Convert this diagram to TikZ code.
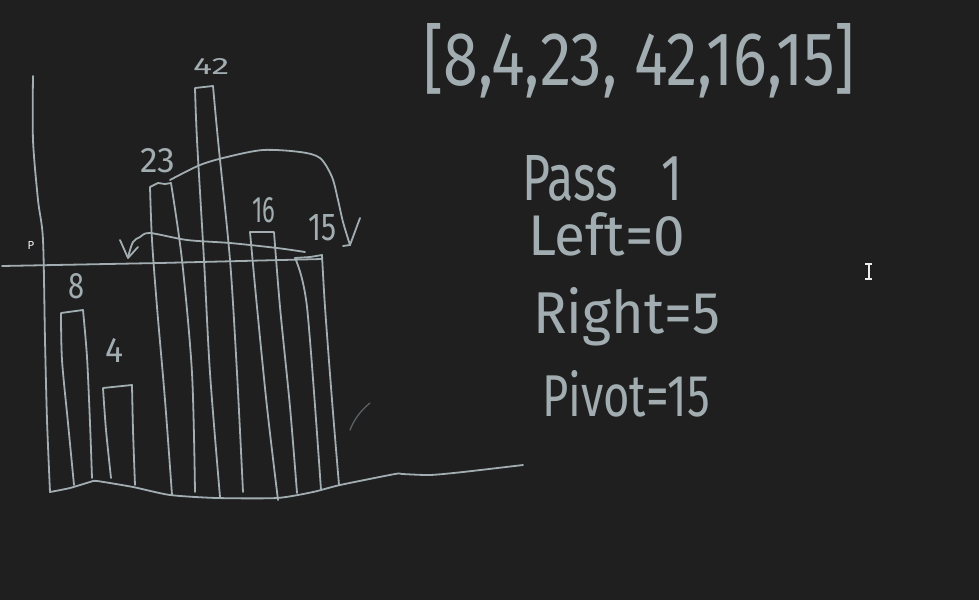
\documentclass[tikz,border=0pt]{standalone}
\usepackage{graphicx}
\usepackage{fontspec}
\setmainfont{Fira Sans}
\newfontfamily\plainfont{DejaVu Sans}
\definecolor{bg}{HTML}{1F1F1F}
\definecolor{chalk}{HTML}{A2ADB1}
\definecolor{faint}{HTML}{5A6266}
\tikzset{
  sk/.style={draw=chalk, line width=1.8pt, line cap=round, line join=round},
  hw/.style={text=chalk, inner sep=0pt, anchor=base west},
}
\begin{document}
\begin{tikzpicture}[x=1pt,y=-1pt]
\fill[bg] (0,0) rectangle (979,600);
\useasboundingbox (0,0) rectangle (979,600);

% axes
\draw[sk] plot[smooth] coordinates {(33,76)(33,140)(38,200)(43,240)(45,340)(47,420)(50,492)};
\draw[sk] plot[smooth,tension=0.4] coordinates {(50,492)(70,488)(90,482)(97,481)(133,487)(170,495)(217,498)(277,498)(313,492)(340,485)(395,474)(402,474)(430,475)(463,472)(523,465)};
\draw[sk] (2,266) -- (160,263) -- (322,259);
\node[text=white!88!gray, inner sep=0pt, font=\plainfont\fontsize{11}{11}\selectfont] (plabel) at (31,245) {P};

% bars
\draw[sk] plot[smooth] coordinates {(74,485)(68,423)(62,360)(61,313)} -- plot[smooth] coordinates {(83,310)(87,357)(90,423)(92,478)};
\draw[sk] plot[smooth] coordinates {(111,478)(106,430)(103,388)} -- plot[smooth] coordinates {(132,385)(133,430)(135,485)};
\draw[sk] plot[smooth] coordinates {(172,495)(165,400)(157,307)(152,240)(150,187)} -- (158,183) -- (165,184) -- plot[smooth] coordinates {(171,183)(182,260)(192,373)(195,492)};
\draw[sk] plot[smooth] coordinates {(220,497)(210,373)(204,260)(197,140)(195,88)} -- plot[smooth] coordinates {(213,86)(218,140)(230,260)(237,373)(243,492)};
\draw[sk] plot[smooth] coordinates {(278,500)(267,407)(257,307)(250,232)} -- plot[smooth] coordinates {(274,232)(280,307)(290,407)(297,493)};
\draw[sk] plot[smooth] coordinates {(321,490)(307,307)(295,258)} -- (310,257) -- plot[smooth] coordinates {(322,255)(325,307)(332,400)(339,485)};

% bar labels
\node[hw] (l8) at (68,298) {\resizebox{16pt}{25pt}{8}};
\node[hw] (l4) at (105,362) {\resizebox{18pt}{24pt}{4}};
\node[hw] (l23) at (140,172) {\resizebox{35pt}{24pt}{23}};
\node[hw] (l42) at (193,74) {\resizebox{36pt}{16pt}{42}};
\node[hw] (l16) at (252,222) {\resizebox{23pt}{25pt}{16}};
\node[hw] (l15) at (308,240) {\resizebox{28pt}{26pt}{15}};

% arrows
\draw[sk] plot[smooth] coordinates {(170,180)(200,165)(227,157)(263,150)(300,152)(320,158)(332,177)(338,200)(343,222)(350,245)};
\draw[sk] (360,218) -- (350,245) -- (343,246);
\draw[sk] plot[smooth] coordinates {(305,252)(277,248)(230,243)(187,240)(150,233)(140,237)(133,242)(128,257)};
\draw[sk] (120,240) -- (128,258) -- (138,247);

% faint stroke
\draw[draw=faint, line width=1.3pt, line cap=round] (370,403) .. controls (360,411) and (354,420) .. (350,430);

% array
\node[hw] (arr) at (423,85) {\resizebox{432pt}{62pt}{[8,4,23, 42,16,15]}};

% notes
\node[hw] (pass) at (522,200) {\resizebox{160pt}{45pt}{Pass\hspace{0.9em}1}};
\node[hw] (left) at (528,255) {\resizebox{157pt}{43pt}{Left=0}};
\node[hw] (right) at (533,333) {\resizebox{187pt}{46pt}{Right=5}};
\node[hw] (pivot) at (542,416) {\resizebox{168pt}{46pt}{Pivot=15}};

% text cursor
\draw[draw=white!85!gray, line width=1.2pt] (869,264) -- (869,279) (865,264) -- (872,264) (865,279) -- (872,279);
\end{tikzpicture}
\end{document}
